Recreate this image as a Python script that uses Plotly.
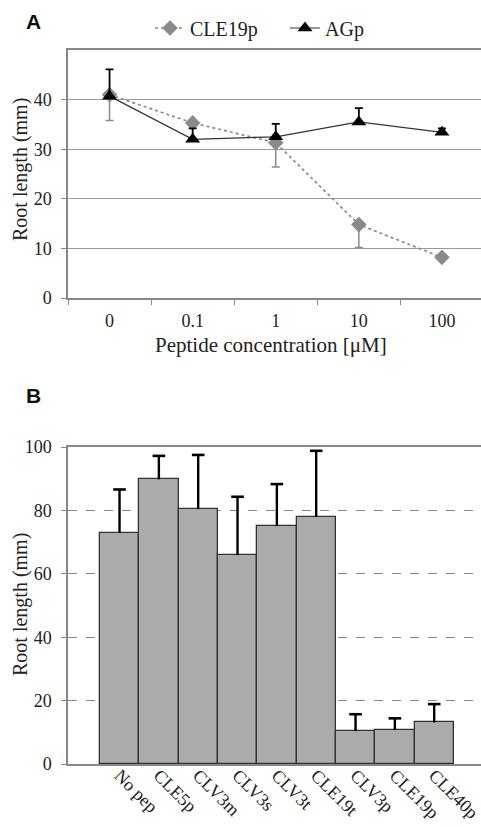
import plotly.graph_objects as go

# Panel A data
conc_labels = ["0", "0.1", "1", "10", "100"]
cle19p_mean = [41.0, 35.3, 31.3, 14.8, 8.2]
cle19p_err_minus = [5.2, 0.0, 4.9, 4.6, 0.0]
agp_mean = [40.7, 32.0, 32.5, 35.5, 33.4]
agp_err_plus = [5.4, 2.2, 2.6, 2.8, 0.8]

# Panel B data
peptides = ["No pep", "CLE5p", "CLV3m", "CLV3s", "CLV3t", "CLE19t", "CLV3p", "CLE19p", "CLE40p"]
root_len = [73.0, 89.8, 80.4, 65.9, 75.1, 78.0, 10.4, 10.7, 13.1]
root_err = [13.6, 7.4, 17.1, 18.4, 13.2, 20.8, 5.3, 3.7, 5.8]

SERIF = '"Liberation Serif", "Times New Roman", serif'
SANS = '"Liberation Sans", Arial, sans-serif'
W, H = 481, 827

fig = go.Figure()

fig.add_trace(go.Scatter(
    x=conc_labels, y=cle19p_mean, name="CLE19p", mode="lines+markers",
    line=dict(color="#8a8a8a", width=1.7, dash="dot"),
    marker=dict(symbol="diamond", size=12, color="#8a8a8a"),
    error_y=dict(type="data", symmetric=False, array=[0]*5, arrayminus=cle19p_err_minus,
                 color="#8a8a8a", thickness=1.5, width=4),
    xaxis="x", yaxis="y"))
fig.add_trace(go.Scatter(
    x=conc_labels, y=agp_mean, name="AGp", mode="lines+markers",
    line=dict(color="#333333", width=1.2),
    marker=dict(symbol="triangle-up", size=13, color="#000000"),
    error_y=dict(type="data", symmetric=False, array=agp_err_plus, arrayminus=[0]*5,
                 color="#000000", thickness=1.8, width=4),
    xaxis="x", yaxis="y"))

fig.add_trace(go.Bar(
    x=peptides, y=root_len, showlegend=False,
    marker=dict(color="#ababab", line=dict(color="#333333", width=1.3)),
    error_y=dict(type="data", symmetric=False, array=root_err, arrayminus=[0]*9,
                 color="#000000", thickness=2.4, width=0),
    xaxis="x2", yaxis="y2"))
# caps at the top of the error bars only
fig.add_trace(go.Scatter(
    x=peptides, y=[m + e for m, e in zip(root_len, root_err)], mode="markers",
    showlegend=False, hoverinfo="skip",
    marker=dict(symbol="line-ew", size=9, line=dict(color="#000000", width=2.6)),
    xaxis="x2", yaxis="y2"))

x0 = 68 / W
tickfont = dict(family=SERIF, size=18, color="#222")

fig.update_layout(
    width=W, height=H, margin=dict(l=0, r=0, t=0, b=0),
    paper_bgcolor="white", plot_bgcolor="white",
    bargap=0,
    showlegend=True,
    legend=dict(orientation="h", x=150/W, y=1 - 28/H, xanchor="left", yanchor="middle",
                font=dict(family=SERIF, size=20, color="#222"), bgcolor="rgba(0,0,0,0)",
                entrywidth=90, entrywidthmode="pixels", tracegroupgap=0),
    xaxis=dict(domain=[x0, 1], type="category", range=[-0.5, 4.47],
               showline=True, linecolor="#888", linewidth=1.5, mirror=True,
               ticks="outside", tickson="boundaries", ticklen=5, tickcolor="#888",
               showgrid=False, tickfont=tickfont, automargin=False, anchor="y",
               ticklabelstandoff=6),
    yaxis=dict(domain=[(H-298)/H, (H-50)/H], range=[0, 50], tickvals=[0, 10, 20, 30, 40],
               showline=True, linecolor="#888", linewidth=1.5,
               ticks="outside", ticklen=5, tickcolor="#888",
               showgrid=True, gridcolor="#999", gridwidth=1.2, zeroline=False,
               tickfont=tickfont, automargin=False, anchor="x", ticklabelstandoff=6),
    xaxis2=dict(domain=[x0, 1], type="category", range=[-1.31, 9.19],
                showline=True, linecolor="#888", linewidth=1.5, mirror=True,
                ticks="", tickangle=45, showgrid=False,
                tickfont=dict(family=SERIF, size=18, color="#222"),
                automargin=False, anchor="y2", ticklabelstandoff=-8),
    yaxis2=dict(domain=[(H-764)/H, (H-447)/H], range=[0, 100], tickvals=[0, 20, 40, 60, 80, 100],
                showline=True, linecolor="#888", linewidth=1.5,
                ticks="outside", ticklen=5, tickcolor="#888",
                showgrid=True, gridcolor="#888", gridwidth=1.2, griddash="dash", zeroline=False,
                tickfont=tickfont, automargin=False, anchor="x2", ticklabelstandoff=6),
)

annots = [
    dict(text="<b>A</b>", x=33/W, y=1 - 22/H, font=dict(family=SANS, size=21, color="#111")),
    dict(text="<b>B</b>", x=33/W, y=1 - 395/H, font=dict(family=SANS, size=21, color="#111")),
    dict(text="Root length (mm)", x=20/W, y=1 - 170/H, textangle=-90,
         font=dict(family=SERIF, size=20, color="#222")),
    dict(text="Root length (mm)", x=20/W, y=1 - 605/H, textangle=-90,
         font=dict(family=SERIF, size=20, color="#222")),
    dict(text="Peptide concentration [μM]", x=271/W, y=1 - 345/H,
         font=dict(family=SERIF, size=21, color="#222")),
]
for a in annots:
    fig.add_annotation(xref="paper", yref="paper", showarrow=False,
                       xanchor="center", yanchor="middle", **a)

fig.write_html("out.html", config={"displayModeBar": False},
               post_script="document.body.style.margin='0px';")
